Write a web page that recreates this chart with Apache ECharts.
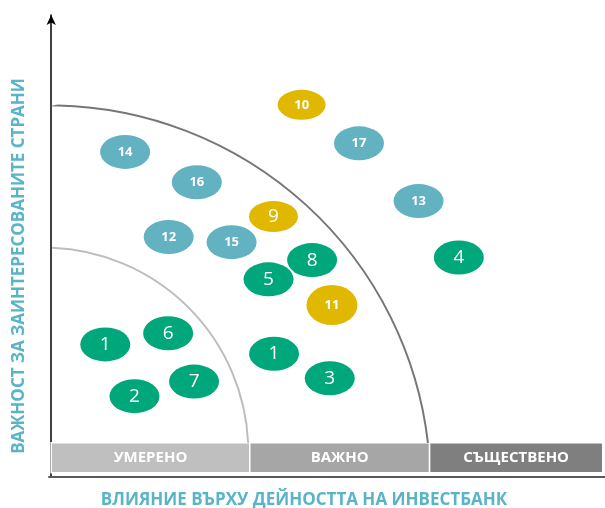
<!DOCTYPE html>
<html>
<head>
<meta charset="utf-8">
<script src="https://cdn.jsdelivr.net/npm/echarts@6/dist/echarts.min.js"></script>
<style>
  html, body { margin: 0; padding: 0; background: #fff; }
  #main { width: 605px; height: 508px; }
</style>
</head>
<body>
<div id="main"></div>
<script>
// теми: влияние (x, 0-100) и важност (y, 0-100)
const greenLabels = ['1', '6', '2', '7', '1', '3', '5', '8', '4'];
const greenImpact = [9.8, 21.2, 15.1, 25.9, 40.4, 50.5, 39.4, 47.3, 73.9];
const greenImportance = [23.0, 25.6, 10.9, 14.3, 20.8, 15.1, 38.2, 42.7, 43.3];

const tealLabels = ['14', '16', '12', '15', '17', '13'];
const tealImpact = [13.4, 26.4, 21.3, 32.7, 55.8, 66.6];
const tealImportance = [68.0, 60.9, 48.1, 46.9, 70.0, 56.5];

const yellowLabels = ['10', '9', '11'];
const yellowImpact = [45.4, 40.3, 50.9];
const yellowImportance = [79.0, 52.9, 32.2];

// зони по оста X
const zoneNames = ['УМЕРЕНО', 'ВАЖНО', 'СЪЩЕСТВЕНО'];
const zoneEdges = [0, 36, 68.6, 100];

// граници (дъги): център, начало и край по X
const arcCenterX = [-1.3, -0.4];
const arcCenterY = [-2.15, -10.3];
const arcStartX = [0.15, 1.2];
const arcEndX = [35.7, 68.3];

const zoneColors = ['#bfbfbf', '#a6a6a6', '#7f7f7f'];
const arcColors = ['#bdbdbd', '#767676'];
const FONT = '"Open Sans", "DejaVu Sans", sans-serif';

// по-малки/по-големи елипси
const sizeOverride = { '10': [48, 30], '9': [49, 31], '11': [51, 40] };

function points(labels, xs, ys) {
  return labels.map((l, i) => ({
    value: [xs[i], ys[i]],
    name: l,
    symbolSize: sizeOverride[l] || [50, 34],
    label: {
      fontSize: l.length === 1 ? 19 : 13,
      fontWeight: l.length === 1 ? 'normal' : 'bold'
    }
  }));
}

function scatterSeries(labels, xs, ys, color) {
  return {
    type: 'scatter',
    symbol: 'circle',
    data: points(labels, xs, ys),
    itemStyle: { color: color, opacity: 1 },
    label: {
      show: true,
      position: 'inside',
      formatter: '{b}',
      color: '#fff',
      fontFamily: FONT
    },
    emphasis: { disabled: true },
    z: 5
  };
}

function renderArc(params, api) {
  const c = api.coord([api.value(0), api.value(1)]);
  const e = api.coord([api.value(3), 0]);
  const sx = api.coord([api.value(2), 0])[0];
  const r = Math.hypot(e[0] - c[0], e[1] - c[1]);
  const sy = c[1] - Math.sqrt(r * r - (sx - c[0]) * (sx - c[0]));
  return {
    type: 'arc',
    shape: {
      cx: c[0], cy: c[1], r: r,
      startAngle: Math.atan2(sy - c[1], sx - c[0]),
      endAngle: Math.atan2(e[1] - c[1], e[0] - c[0]),
      clockwise: true
    },
    style: { fill: null, stroke: arcColors[params.dataIndex], lineWidth: 2 }
  };
}

function renderZone(params, api) {
  const p0 = api.coord([api.value(0), 0]);
  const p1 = api.coord([api.value(1), -7]);
  return {
    type: 'rect',
    shape: { x: p0[0], y: p0[1], width: p1[0] - p0[0], height: p1[1] - p0[1] },
    style: { fill: zoneColors[params.dataIndex], stroke: '#fff', lineWidth: 1.5 },
    textContent: {
      style: { text: zoneNames[params.dataIndex], fill: '#fff', font: 'bold 15px ' + FONT }
    },
    textConfig: { position: 'inside' }
  };
}

const chart = echarts.init(document.getElementById('main'));
chart.setOption({
  animation: false,
  grid: { left: 49, right: 0, top: 15, bottom: 31 },
  xAxis: {
    type: 'value', min: -0.4, max: 100.4,
    axisLine: { show: true, onZero: false, lineStyle: { color: '#595959', width: 2 } },
    axisTick: { show: false }, axisLabel: { show: false }, splitLine: { show: false }
  },
  yAxis: {
    type: 'value', min: -8, max: 100,
    axisLine: {
      show: true, onZero: true,
      symbol: ['none', 'arrow'], symbolSize: [7, 10],
      lineStyle: { color: '#000', width: 1.5 }
    },
    axisTick: { show: false }, axisLabel: { show: false }, splitLine: { show: false }
  },
  graphic: [
    {
      type: 'text', x: 304, y: 500,
      style: {
        text: 'ВЛИЯНИЕ ВЪРХУ ДЕЙНОСТТА НА ИНВЕСТБАНК',
        align: 'center', verticalAlign: 'middle',
        fill: '#5ab4c8', font: 'bold 17px ' + FONT
      }
    },
    {
      type: 'text', x: 19, y: 266, rotation: Math.PI / 2,
      style: {
        text: 'ВАЖНОСТ ЗА ЗАИНТЕРЕСОВАНИТЕ СТРАНИ',
        align: 'center', verticalAlign: 'middle',
        fill: '#5ab4c8', font: 'bold 17px ' + FONT
      }
    }
  ],
  series: [
    {
      type: 'custom',
      renderItem: renderZone,
      data: zoneNames.map((n, i) => [zoneEdges[i], zoneEdges[i + 1]]),
      silent: true, z: 2
    },
    {
      type: 'custom',
      renderItem: renderArc,
      data: arcCenterX.map((cx, i) => [cx, arcCenterY[i], arcStartX[i], arcEndX[i]]),
      silent: true, z: 3
    },
    scatterSeries(greenLabels, greenImpact, greenImportance, '#00a77b'),
    scatterSeries(tealLabels, tealImpact, tealImportance, '#63b2c1'),
    scatterSeries(yellowLabels, yellowImpact, yellowImportance, '#e0b800')
  ]
});
</script>
</body>
</html>
